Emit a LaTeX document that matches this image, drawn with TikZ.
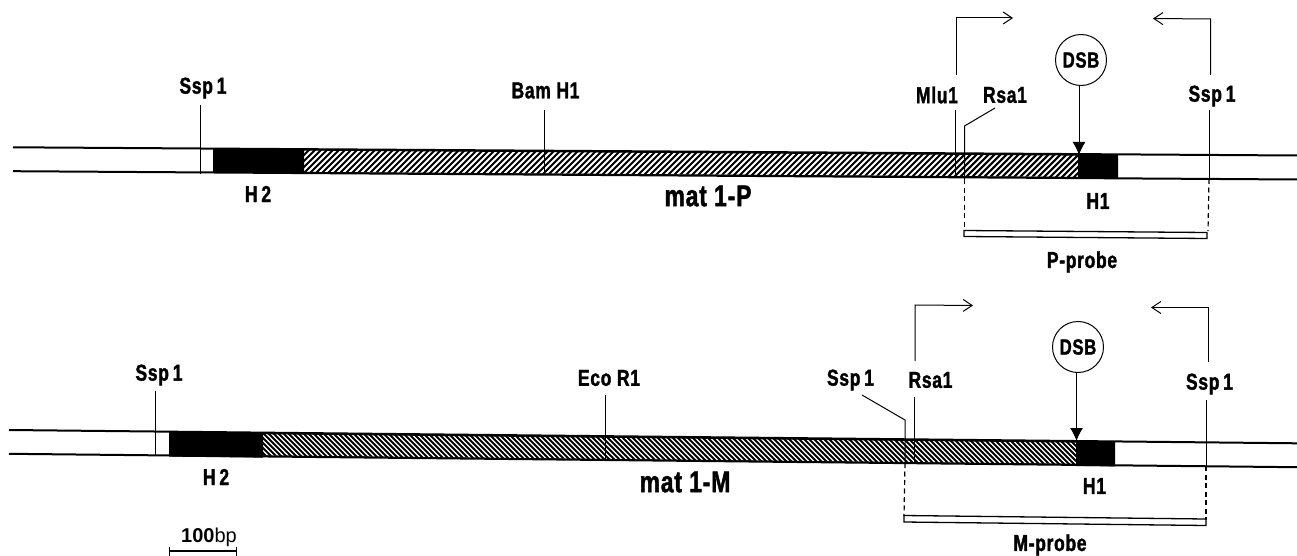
\documentclass[tikz,border=0pt]{standalone}
\usepackage{fontspec}
\setmainfont{Liberation Sans}
\newfontfamily\narrowbold[FakeStretch=0.76,LetterSpace=3,BoldFeatures={FakeBold=1.5}]{Liberation Sans}
\usetikzlibrary{arrows.meta}
\tikzset{
  lab/.style={font=\narrowbold\bfseries\fontsize{23}{23}\selectfont,inner sep=0pt,text=black},
  biglab/.style={font=\narrowbold\bfseries\fontsize{30}{30}\selectfont,inner sep=0pt,text=black},
  site/.style={line width=1pt,black},
  strand/.style={line width=2pt,black},
  guide/.style={line width=1.2pt,black,dash pattern=on 5pt off 3.5pt},
  turn/.style={line width=1pt,black,-{Straight Barb[length=9pt,width=12pt,line width=1pt]}},
  cut/.style={line width=1pt,black,-{Latex[length=13pt,width=13pt]}},
  dsb/.style={circle,draw=black,line width=1pt,minimum size=51pt,inner sep=0pt,font=\narrowbold\bfseries\fontsize{22}{22}\selectfont},
  probebox/.style={draw=black,line width=1.3pt,fill=white}
}
\begin{document}
\begin{tikzpicture}[x=1pt,y=-1pt]
\useasboundingbox (0,0) rectangle (1297,556);
\fill[white] (0,0) rectangle (1297,556);

% ---------- upper map: mat 1-P
\coordinate (pTL) at (13,147.3);
\coordinate (pTR) at (1297,155.5);
\coordinate (pBL) at (13,171.2);
\coordinate (pBR) at (1297,179.5);
\fill (213,148.5) -- (304,149.1) -- (304,173.1) -- (213,172.5) -- cycle;
\fill (1078,154) -- (1118,154.3) -- (1118,178.3) -- (1078,178) -- cycle;
\begin{scope}
  \clip (304,150) -- (1078,155) -- (1078,177) -- (304,172) -- cycle;
  \foreach \k in {0,...,140} {
    \draw[black,line width=2.1pt] ({255+6*\k},180) -- ({255+6*\k+36},144);
  }
\end{scope}
\draw[strand] (pTL) -- (pTR);
\draw[strand] (pBL) -- (pBR);
\draw[line width=1.2pt] (304,150) -- (1078,155);
\draw[line width=1.2pt] (304,172.5) -- (1078,177.5);

\node[lab] (sspPa) at (203,88) {Ssp\,1};
\node[lab] (bamP) at (545.5,90.5) {Bam H1};
\node[lab] (mluP) at (937,95) {Mlu1};
\node[lab] (rsaP) at (1005,95) {Rsa1};
\node[lab] (sspPb) at (1212,96) {Ssp\,1};
\node[lab] (h2P) at (258,194) {H\,2};
\node[lab] (h1P) at (1098,201) {H1};
\node[biglab] (matP) at (708,196) {mat 1-P};
\node[lab] (probeP) at (1082,262) {P-probe};
\node[dsb] (dsbP) at (1081,60) {DSB};

\coordinate (a1) at (200,105); \coordinate (a2) at (200,174);
\draw[site] (a1) -- (a2);
\coordinate (b1) at (544,110); \coordinate (b2) at (544,175);
\draw[site] (b1) -- (b2);
\coordinate (c1) at (955.7,110); \coordinate (c2) at (955.7,178);
\draw[site] (c1) -- (c2);
\coordinate (d1) at (995,108); \coordinate (d2) at (964.5,126); \coordinate (d3) at (964.5,179); \coordinate (d4) at (964.5,231);
\draw[site] (d1) -- (d2) -- (d3);
\draw[guide] (d3) -- (d4);
\coordinate (e1) at (1209,110); \coordinate (e2) at (1209,179); \coordinate (e4) at (1208,231);
\draw[site] (e1) -- (e2);
\draw[guide] (e2) -- (e4);
\coordinate (f1) at (956,75); \coordinate (f2) at (956,18); \coordinate (f3) at (1013,18);
\draw[turn] (f1) -- (f2) -- (f3);
\coordinate (g1) at (1210.5,75); \coordinate (g2) at (1210.5,19); \coordinate (g3) at (1153,18.5);
\draw[turn] (g1) -- (g2) -- (g3);
\coordinate (hP) at (1079,155);
\draw[cut] (dsbP.south -| hP) -- (hP);
\draw[probebox] (964,230.5) -- (1207,232.5) -- (1207,238.5) -- (964,236.5) -- cycle;

% ---------- lower map: mat 1-M
\coordinate (mTL) at (9,430);
\coordinate (mTR) at (1297,443.3);
\coordinate (mBL) at (9,453.8);
\coordinate (mBR) at (1297,467.2);
\fill (169,431.6) -- (263,432.6) -- (263,457.6) -- (169,456.6) -- cycle;
\fill (1076,441) -- (1115,441.4) -- (1115,466.4) -- (1076,466) -- cycle;
\begin{scope}
  \clip (263,433.6) -- (1076,442) -- (1076,464) -- (263,455.6) -- cycle;
  \foreach \k in {0,...,170} {
    \draw[black,line width=1.9pt] ({220+5*\k},425) -- ({220+5*\k+45},470);
  }
\end{scope}
\draw[strand] (mTL) -- (mTR);
\draw[strand] (mBL) -- (mBR);
\draw[line width=1.2pt] (263,433.6) -- (1076,442);
\draw[line width=1.2pt] (263,456) -- (1076,464.4);

\node[lab] (sspMa) at (159,375) {Ssp\,1};
\node[lab] (ecoM) at (609,378) {Eco R1};
\node[lab] (sspMb) at (850.5,380) {Ssp\,1};
\node[lab] (rsaM) at (930.5,380) {Rsa1};
\node[lab] (sspMc) at (1209.5,384) {Ssp\,1};
\node[lab] (h2M) at (216,477) {H\,2};
\node[lab] (h1M) at (1094.5,486) {H1};
\node[biglab] (matM) at (685,482) {mat 1-M};
\node[lab] (probeM) at (1050,545) {M-probe};
\node[dsb] (dsbM) at (1078,347) {DSB};

\coordinate (k1) at (155.5,391); \coordinate (k2) at (155.5,456);
\draw[site] (k1) -- (k2);
\coordinate (l1) at (605,395); \coordinate (l2) at (605,461);
\draw[site] (l1) -- (l2);
\coordinate (m1) at (862,395); \coordinate (m2) at (905,420); \coordinate (m3) at (905,463); \coordinate (m4) at (904,516);
\draw[site] (m1) -- (m2) -- (m3);
\draw[guide] (m3) -- (m4);
\coordinate (n1) at (914,397); \coordinate (n2) at (914,463);
\draw[site] (n1) -- (n2);
\coordinate (o1) at (1206,400); \coordinate (o2) at (1206,466); \coordinate (o4) at (1206,520);
\draw[site] (o1) -- (o2);
\draw[guide] (o2) -- (o4);
\coordinate (q1) at (915,361); \coordinate (q2) at (915,305); \coordinate (q3) at (973,305.5);
\draw[turn] (q1) -- (q2) -- (q3);
\coordinate (r1) at (1208,362); \coordinate (r2) at (1208,307.5); \coordinate (r3) at (1151,307.5);
\draw[turn] (r1) -- (r2) -- (r3);
\coordinate (hM) at (1076.5,441);
\draw[cut] (dsbM.south -| hM) -- (hM);
\draw[probebox] (904,515.5) -- (1206,519) -- (1206,525.5) -- (904,522) -- cycle;

% ---------- scale bar
\node[font=\fontsize{20}{20}\selectfont,inner sep=0pt] (scaleLab) at (209,537) {\textbf{100}bp};
\coordinate (s1) at (169,551); \coordinate (s2) at (237,551);
\draw[line width=1.2pt,{Bar[width=9pt,length=1pt]}-{Bar[width=9pt,length=1pt]}] (s1) -- (s2);
\end{tikzpicture}
\end{document}
